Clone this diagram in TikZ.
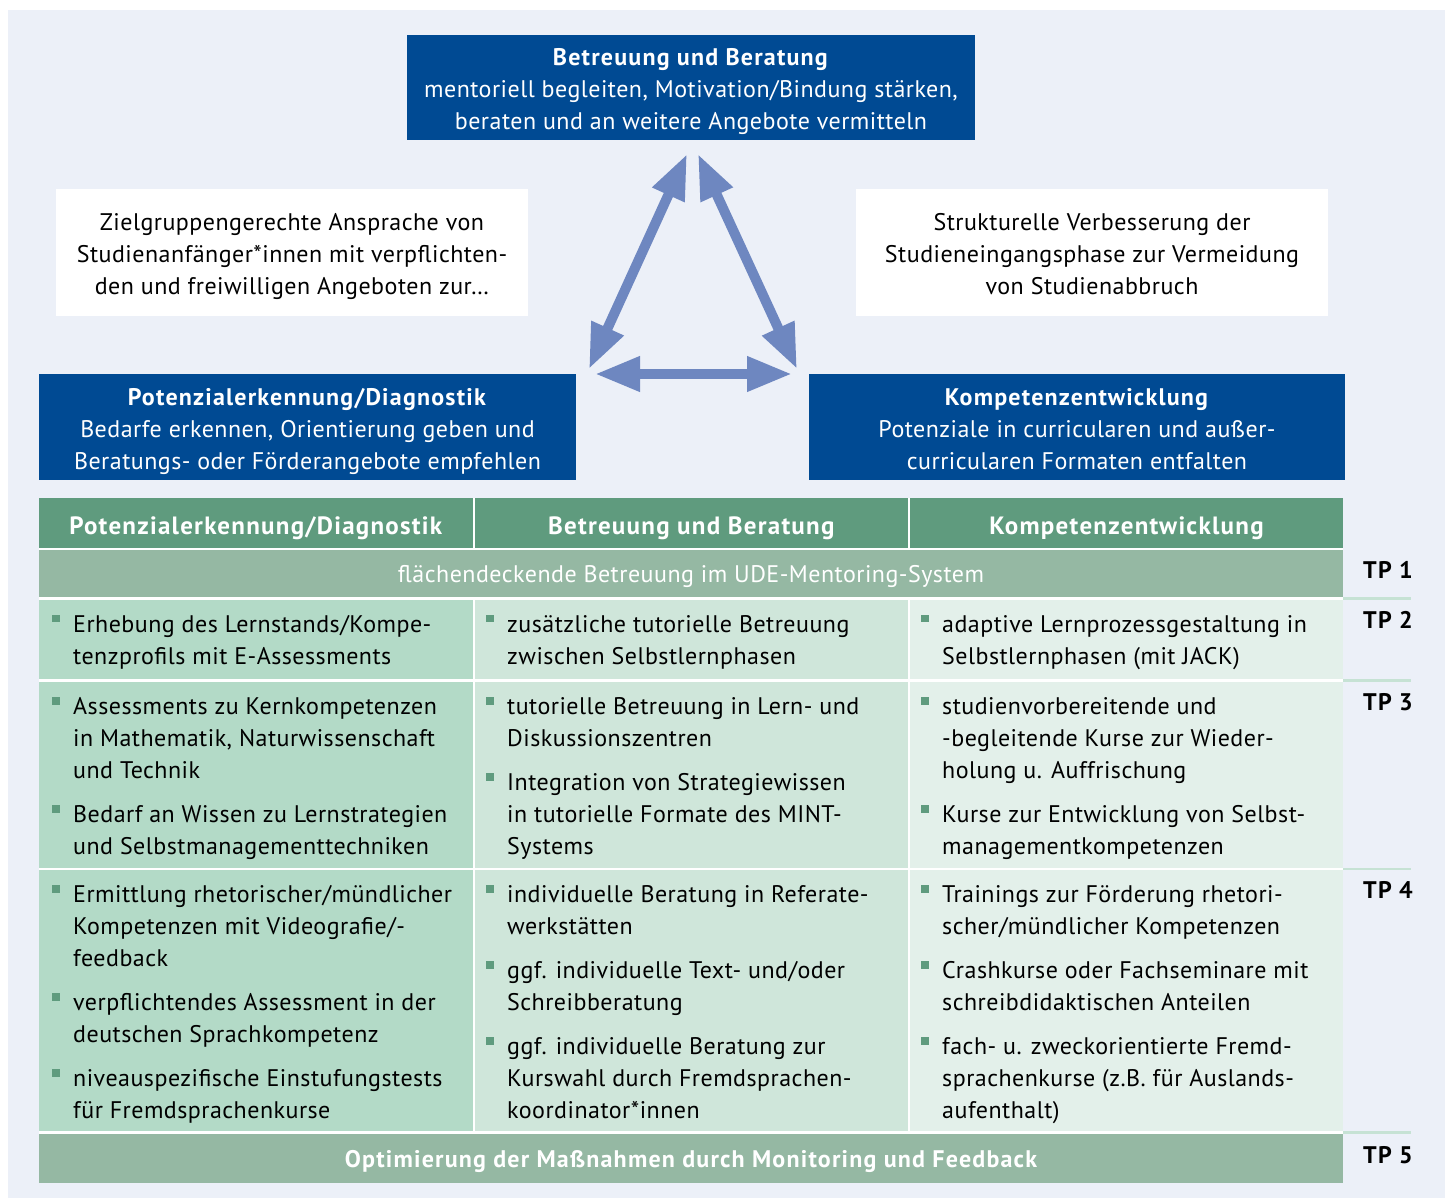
\documentclass[tikz,border=0pt]{standalone}
\usepackage{fontspec}
\setmainfont{PT Sans}[LetterSpace=2, BoldFeatures={LetterSpace=5}]
\usetikzlibrary{arrows.meta}

\definecolor{pagebg}{HTML}{ECF0F8}
\definecolor{udeblue}{HTML}{004A93}
\definecolor{headgreen}{HTML}{5F9B7E}
\definecolor{bandgreen}{HTML}{95B8A3}
\definecolor{cellA}{HTML}{B3DAC7}
\definecolor{cellB}{HTML}{CFE6DA}
\definecolor{cellC}{HTML}{E3F0EA}
\definecolor{arrowblue}{HTML}{6E87C0}
\definecolor{rulegreen}{HTML}{C6E2D4}
\definecolor{bulletgreen}{HTML}{5F9B7E}

\newcommand\boxfont{\fontsize{24}{32}\selectfont}
\newcommand\headfont{\fontsize{25}{32}\selectfont\bfseries}
% struts that fix the height of the first and the depth of the last line of a box text
\newcommand\topstrut{\rule{0pt}{26pt}}
\newcommand\botstrut{\rule[-6pt]{0pt}{6pt}}
% square bullet hanging left of the item text, plus a strut fixing the first line height
\newcommand\bsq{\llap{\raisebox{10pt}{\textcolor{bulletgreen}{\rule{7.5pt}{7.5pt}}}\hspace{13.5pt}}\rule{0pt}{24pt}}

\begin{document}
\begin{tikzpicture}[x=1pt,y=-1pt,
  bluebox/.style={fill=udeblue, text=white, inner sep=0pt, align=center, font=\boxfont},
  notebox/.style={fill=white, text=black, inner sep=0pt, align=center, font=\boxfont},
  cellbody/.style={anchor=north west, inner sep=0pt, align=left, font=\boxfont, text=black},
  headtext/.style={text=white, font=\headfont, inner sep=0pt},
  bandtext/.style={text=white, font=\boxfont, inner sep=0pt},
  tplabel/.style={anchor=base west, font=\boxfont\bfseries, inner sep=0pt},
  dblarrow/.style={draw=arrowblue, line width=10pt,
    {Triangle[length=45pt,width=33pt]}-{Triangle[length=45pt,width=33pt]}},
  tprule/.style={draw=rulegreen, line width=2.5pt},
]
\useasboundingbox (0,0) rectangle (1448,1198);
\fill[white] (0,0) rectangle (1448,1198);
\fill[pagebg] (8,10) rectangle (1445,1198);

% --- three fields of action ---
\node[bluebox, minimum width=568pt, minimum height=105pt] (topbox) at (691,87.5)
  {\topstrut\textbf{Betreuung und Beratung}\\mentoriell begleiten, Motivation/Bindung stärken,\\beraten und an weitere Angebote vermitteln\botstrut};
\node[bluebox, minimum width=537pt, minimum height=106pt] (leftbox) at (307.5,427)
  {\topstrut\textbf{Potenzialerkennung/Diagnostik}\\Bedarfe erkennen, Orientierung geben und\\Beratungs- oder Förderangebote empfehlen\botstrut};
\node[bluebox, minimum width=536pt, minimum height=106pt] (rightbox) at (1077,427)
  {\topstrut\textbf{Kompetenzentwicklung}\\Potenziale in curricularen und außer-\\curricularen Formaten entfalten\botstrut};

\node[notebox, minimum width=472pt, minimum height=127pt] (noteleft) at (292,252.5)
  {\topstrut Zielgruppengerechte Ansprache von\\Studienanfänger*innen mit verpflichten-\\den und freiwilligen Angeboten zur\dots\botstrut};
\node[notebox, minimum width=472pt, minimum height=127pt] (noteright) at (1092,252.5)
  {\topstrut Strukturelle Verbesserung der\\Studieneingangsphase zur Vermeidung\\von Studienabbruch\botstrut};

% --- arrows between the fields ---
\coordinate (aL1) at (589,369);
\coordinate (aL2) at (687,154);
\coordinate (aR1) at (698,154);
\coordinate (aR2) at (797,369);
\coordinate (aH1) at (595,374);
\coordinate (aH2) at (792,374);
\draw[dblarrow] (aL1) -- (aL2);
\draw[dblarrow] (aR1) -- (aR2);
\draw[dblarrow] (aH1) -- (aH2);

% --- table ---
\fill[white] (39,498) rectangle (1343,1183);
% header
\fill[headgreen] (39,498) rectangle (472.5,547.5);
\fill[headgreen] (475,498) rectangle (907.5,547.5);
\fill[headgreen] (910,498) rectangle (1343,547.5);
% TP 1 band
\fill[bandgreen] (39,550) rectangle (1343,597);
% TP 2-4 cells
\foreach \ya/\yb in {599.5/679, 681.5/867.5, 870/1131}{
  \fill[cellA] (39,\ya) rectangle (472.5,\yb);
  \fill[cellB] (475,\ya) rectangle (907.5,\yb);
  \fill[cellC] (910,\ya) rectangle (1343,\yb);
}
% TP 5 band
\fill[bandgreen] (39,1133.5) rectangle (1343,1183);

% rules continuing into the TP column
\foreach \yy in {598.3,680.3,868.8,1132.3}{
  \draw[tprule] (1343,\yy) -- (1411,\yy);
}

\node[headtext] (hA) at (255.75,528) {Potenzialerkennung/Diagnostik};
\node[headtext] (hB) at (691.25,528) {Betreuung und Beratung};
\node[headtext] (hC) at (1126.5,528) {Kompetenzentwicklung};

\node[bandtext] (band1) at (691,576) {flächendeckende Betreuung im UDE-Mentoring-System};
\node[bandtext, font=\boxfont\bfseries] (band5) at (691,1161) {Optimierung der Maßnahmen durch Monitoring und Feedback};

% TP 2
\node[cellbody] (c2a) at (73,608) {\bsq Erhebung des Lernstands/Kompe-\\tenzprofils mit E-Assessments};
\node[cellbody] (c2b) at (507,608) {\bsq zusätzliche tutorielle Betreuung\\zwischen Selbstlernphasen};
\node[cellbody] (c2c) at (942,608) {\bsq adaptive Lernprozessgestaltung in\\Selbstlernphasen (mit JACK)};

% TP 3
\node[cellbody] (c3a) at (73,690.5) {\bsq Assessments zu Kernkompetenzen\\in Mathematik, Naturwissenschaft\\und Technik\\[12pt]\bsq Bedarf an Wissen zu Lernstrategien\\und Selbstmanagementtechniken};
\node[cellbody] (c3b) at (507,690.5) {\bsq tutorielle Betreuung in Lern- und\\Diskussionszentren\\[12pt]\bsq Integration von Strategiewissen\\in tutorielle Formate des MINT-\\Systems};
\node[cellbody] (c3c) at (942,690.5) {\bsq studienvorbereitende und\\-begleitende Kurse zur Wieder-\\holung u. Auffrischung\\[12pt]\bsq Kurse zur Entwicklung von Selbst-\\managementkompetenzen};

% TP 4
\node[cellbody] (c4a) at (73,878.5) {\bsq Ermittlung rhetorischer/mündlicher\\Kompetenzen mit Videografie/-\\feedback\\[12pt]\bsq verpflichtendes Assessment in der\\deutschen Sprachkompetenz\\[12pt]\bsq niveauspezifische Einstufungstests\\für Fremdsprachenkurse};
\node[cellbody] (c4b) at (507,878.5) {\bsq individuelle Beratung in Referate-\\werkstätten\\[12pt]\bsq ggf. individuelle Text- und/oder\\Schreibberatung\\[12pt]\bsq ggf. individuelle Beratung zur\\Kurswahl durch Fremdsprachen-\\koordinator*innen};
\node[cellbody] (c4c) at (942,878.5) {\bsq Trainings zur Förderung rhetori-\\scher/mündlicher Kompetenzen\\[12pt]\bsq Crashkurse oder Fachseminare mit\\schreibdidaktischen Anteilen\\[12pt]\bsq fach- u. zweckorientierte Fremd-\\sprachenkurse (z.B. für Auslands-\\aufenthalt)};

% TP labels
\node[tplabel] (tp1) at (1363,578) {TP 1};
\node[tplabel] (tp2) at (1363,628) {TP 2};
\node[tplabel] (tp3) at (1363,710) {TP 3};
\node[tplabel] (tp4) at (1363,898) {TP 4};
\node[tplabel] (tp5) at (1363,1163) {TP 5};
\end{tikzpicture}
\end{document}
